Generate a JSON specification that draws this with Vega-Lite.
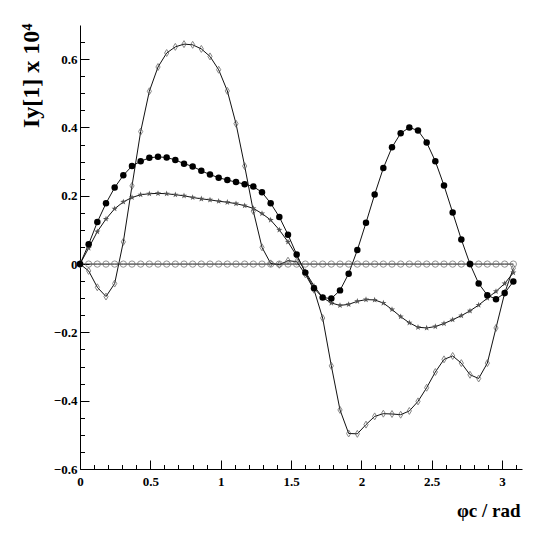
{
  "$schema": "https://vega.github.io/schema/vega-lite/v6.json",
  "width": 442,
  "height": 444,
  "autosize": {"type": "none"},
  "padding": {"left": 80, "top": 25, "right": 23, "bottom": 64},
  "background": "white",
  "config": {
    "view": {"stroke": null},
    "axis": {
      "grid": false,
      "domainColor": "#000",
      "domainWidth": 1,
      "tickColor": "#000",
      "tickWidth": 1,
      "labelFont": "Liberation Serif",
      "labelFontWeight": "bold",
      "labelFontSize": 13,
      "labelColor": "#000",
      "labelOverlap": false,
      "labelFlush": false,
      "labelBound": false,
      "titleFont": "Liberation Serif",
      "titleFontWeight": "bold",
      "titleColor": "#000"
    }
  },
  "data": {"values": [
    {"x":0,"y":0,"s":"A"},{"x":0.0616,"y":0.058,"s":"A"},{"x":0.1232,"y":0.123,"s":"A"},{"x":0.1848,"y":0.178,"s":"A"},{"x":0.2464,"y":0.224,"s":"A"},{"x":0.308,"y":0.26,"s":"A"},{"x":0.3696,"y":0.287,"s":"A"},{"x":0.4312,"y":0.301,"s":"A"},{"x":0.4928,"y":0.311,"s":"A"},{"x":0.5544,"y":0.314,"s":"A"},{"x":0.616,"y":0.312,"s":"A"},{"x":0.6776,"y":0.305,"s":"A"},{"x":0.7392,"y":0.294,"s":"A"},{"x":0.8008,"y":0.286,"s":"A"},{"x":0.8624,"y":0.273,"s":"A"},{"x":0.924,"y":0.262,"s":"A"},{"x":0.9856,"y":0.253,"s":"A"},{"x":1.0472,"y":0.246,"s":"A"},{"x":1.1088,"y":0.24,"s":"A"},{"x":1.1704,"y":0.234,"s":"A"},{"x":1.232,"y":0.227,"s":"A"},{"x":1.2936,"y":0.21,"s":"A"},{"x":1.3552,"y":0.178,"s":"A"},{"x":1.4168,"y":0.138,"s":"A"},{"x":1.4784,"y":0.086,"s":"A"},{"x":1.54,"y":0.028,"s":"A"},{"x":1.6016,"y":-0.025,"s":"A"},{"x":1.6632,"y":-0.071,"s":"A"},{"x":1.7248,"y":-0.098,"s":"A"},{"x":1.7864,"y":-0.101,"s":"A"},{"x":1.848,"y":-0.077,"s":"A"},{"x":1.9096,"y":-0.028,"s":"A"},{"x":1.9712,"y":0.041,"s":"A"},{"x":2.0328,"y":0.121,"s":"A"},{"x":2.0944,"y":0.204,"s":"A"},{"x":2.156,"y":0.281,"s":"A"},{"x":2.2176,"y":0.342,"s":"A"},{"x":2.2792,"y":0.383,"s":"A"},{"x":2.3408,"y":0.4,"s":"A"},{"x":2.4024,"y":0.391,"s":"A"},{"x":2.464,"y":0.356,"s":"A"},{"x":2.5256,"y":0.301,"s":"A"},{"x":2.5872,"y":0.23,"s":"A"},{"x":2.6488,"y":0.151,"s":"A"},{"x":2.7104,"y":0.072,"s":"A"},{"x":2.772,"y":0.0,"s":"A"},{"x":2.8336,"y":-0.057,"s":"A"},{"x":2.8952,"y":-0.091,"s":"A"},{"x":2.9568,"y":-0.103,"s":"A"},{"x":3.0184,"y":-0.085,"s":"A"},{"x":3.08,"y":-0.051,"s":"A"},
    {"x":0,"y":0,"s":"B"},{"x":0.0616,"y":0,"s":"B"},{"x":0.1232,"y":0,"s":"B"},{"x":0.1848,"y":0,"s":"B"},{"x":0.2464,"y":0,"s":"B"},{"x":0.308,"y":0,"s":"B"},{"x":0.3696,"y":0,"s":"B"},{"x":0.4312,"y":0,"s":"B"},{"x":0.4928,"y":0,"s":"B"},{"x":0.5544,"y":0,"s":"B"},{"x":0.616,"y":0,"s":"B"},{"x":0.6776,"y":0,"s":"B"},{"x":0.7392,"y":0,"s":"B"},{"x":0.8008,"y":0,"s":"B"},{"x":0.8624,"y":0,"s":"B"},{"x":0.924,"y":0,"s":"B"},{"x":0.9856,"y":0,"s":"B"},{"x":1.0472,"y":0,"s":"B"},{"x":1.1088,"y":0,"s":"B"},{"x":1.1704,"y":0,"s":"B"},{"x":1.232,"y":0,"s":"B"},{"x":1.2936,"y":0,"s":"B"},{"x":1.3552,"y":0,"s":"B"},{"x":1.4168,"y":0,"s":"B"},{"x":1.4784,"y":0,"s":"B"},{"x":1.54,"y":0,"s":"B"},{"x":1.6016,"y":0,"s":"B"},{"x":1.6632,"y":0,"s":"B"},{"x":1.7248,"y":0,"s":"B"},{"x":1.7864,"y":0,"s":"B"},{"x":1.848,"y":0,"s":"B"},{"x":1.9096,"y":0,"s":"B"},{"x":1.9712,"y":0,"s":"B"},{"x":2.0328,"y":0,"s":"B"},{"x":2.0944,"y":0,"s":"B"},{"x":2.156,"y":0,"s":"B"},{"x":2.2176,"y":0,"s":"B"},{"x":2.2792,"y":0,"s":"B"},{"x":2.3408,"y":0,"s":"B"},{"x":2.4024,"y":0,"s":"B"},{"x":2.464,"y":0,"s":"B"},{"x":2.5256,"y":0,"s":"B"},{"x":2.5872,"y":0,"s":"B"},{"x":2.6488,"y":0,"s":"B"},{"x":2.7104,"y":0,"s":"B"},{"x":2.772,"y":0,"s":"B"},{"x":2.8336,"y":0,"s":"B"},{"x":2.8952,"y":0,"s":"B"},{"x":2.9568,"y":0,"s":"B"},{"x":3.0184,"y":0,"s":"B"},{"x":3.08,"y":0,"s":"B"},
    {"x":0,"y":0,"s":"C"},{"x":0.0616,"y":0.047,"s":"C"},{"x":0.1232,"y":0.095,"s":"C"},{"x":0.1848,"y":0.132,"s":"C"},{"x":0.2464,"y":0.162,"s":"C"},{"x":0.308,"y":0.182,"s":"C"},{"x":0.3696,"y":0.195,"s":"C"},{"x":0.4312,"y":0.203,"s":"C"},{"x":0.4928,"y":0.206,"s":"C"},{"x":0.5544,"y":0.207,"s":"C"},{"x":0.616,"y":0.206,"s":"C"},{"x":0.6776,"y":0.203,"s":"C"},{"x":0.7392,"y":0.2,"s":"C"},{"x":0.8008,"y":0.195,"s":"C"},{"x":0.8624,"y":0.191,"s":"C"},{"x":0.924,"y":0.188,"s":"C"},{"x":0.9856,"y":0.184,"s":"C"},{"x":1.0472,"y":0.181,"s":"C"},{"x":1.1088,"y":0.177,"s":"C"},{"x":1.1704,"y":0.171,"s":"C"},{"x":1.232,"y":0.163,"s":"C"},{"x":1.2936,"y":0.148,"s":"C"},{"x":1.3552,"y":0.129,"s":"C"},{"x":1.4168,"y":0.1,"s":"C"},{"x":1.4784,"y":0.065,"s":"C"},{"x":1.54,"y":0.024,"s":"C"},{"x":1.6016,"y":-0.022,"s":"C"},{"x":1.6632,"y":-0.064,"s":"C"},{"x":1.7248,"y":-0.098,"s":"C"},{"x":1.7864,"y":-0.114,"s":"C"},{"x":1.848,"y":-0.121,"s":"C"},{"x":1.9096,"y":-0.118,"s":"C"},{"x":1.9712,"y":-0.109,"s":"C"},{"x":2.0328,"y":-0.104,"s":"C"},{"x":2.0944,"y":-0.105,"s":"C"},{"x":2.156,"y":-0.114,"s":"C"},{"x":2.2176,"y":-0.133,"s":"C"},{"x":2.2792,"y":-0.154,"s":"C"},{"x":2.3408,"y":-0.172,"s":"C"},{"x":2.4024,"y":-0.185,"s":"C"},{"x":2.464,"y":-0.187,"s":"C"},{"x":2.5256,"y":-0.183,"s":"C"},{"x":2.5872,"y":-0.174,"s":"C"},{"x":2.6488,"y":-0.163,"s":"C"},{"x":2.7104,"y":-0.151,"s":"C"},{"x":2.772,"y":-0.137,"s":"C"},{"x":2.8336,"y":-0.12,"s":"C"},{"x":2.8952,"y":-0.1,"s":"C"},{"x":2.9568,"y":-0.08,"s":"C"},{"x":3.0184,"y":-0.057,"s":"C"},{"x":3.08,"y":-0.025,"s":"C"},
    {"x":0,"y":0,"s":"D"},{"x":0.0616,"y":-0.02,"s":"D"},{"x":0.1232,"y":-0.068,"s":"D"},{"x":0.1848,"y":-0.095,"s":"D"},{"x":0.2464,"y":-0.057,"s":"D"},{"x":0.308,"y":0.065,"s":"D"},{"x":0.3696,"y":0.229,"s":"D"},{"x":0.4312,"y":0.388,"s":"D"},{"x":0.4928,"y":0.506,"s":"D"},{"x":0.5544,"y":0.577,"s":"D"},{"x":0.616,"y":0.618,"s":"D"},{"x":0.6776,"y":0.636,"s":"D"},{"x":0.7392,"y":0.644,"s":"D"},{"x":0.8008,"y":0.642,"s":"D"},{"x":0.8624,"y":0.63,"s":"D"},{"x":0.924,"y":0.608,"s":"D"},{"x":0.9856,"y":0.569,"s":"D"},{"x":1.0472,"y":0.507,"s":"D"},{"x":1.1088,"y":0.411,"s":"D"},{"x":1.1704,"y":0.287,"s":"D"},{"x":1.232,"y":0.155,"s":"D"},{"x":1.2936,"y":0.049,"s":"D"},{"x":1.3552,"y":0.002,"s":"D"},{"x":1.4168,"y":-0.002,"s":"D"},{"x":1.4784,"y":0.01,"s":"D"},{"x":1.54,"y":0.007,"s":"D"},{"x":1.6016,"y":-0.03,"s":"D"},{"x":1.6632,"y":-0.075,"s":"D"},{"x":1.7248,"y":-0.158,"s":"D"},{"x":1.7864,"y":-0.298,"s":"D"},{"x":1.848,"y":-0.427,"s":"D"},{"x":1.9096,"y":-0.496,"s":"D"},{"x":1.9712,"y":-0.497,"s":"D"},{"x":2.0328,"y":-0.47,"s":"D"},{"x":2.0944,"y":-0.446,"s":"D"},{"x":2.156,"y":-0.438,"s":"D"},{"x":2.2176,"y":-0.439,"s":"D"},{"x":2.2792,"y":-0.441,"s":"D"},{"x":2.3408,"y":-0.43,"s":"D"},{"x":2.4024,"y":-0.402,"s":"D"},{"x":2.464,"y":-0.362,"s":"D"},{"x":2.5256,"y":-0.316,"s":"D"},{"x":2.5872,"y":-0.279,"s":"D"},{"x":2.6488,"y":-0.269,"s":"D"},{"x":2.7104,"y":-0.29,"s":"D"},{"x":2.772,"y":-0.324,"s":"D"},{"x":2.8336,"y":-0.335,"s":"D"},{"x":2.8952,"y":-0.29,"s":"D"},{"x":2.9568,"y":-0.187,"s":"D"},{"x":3.0184,"y":-0.085,"s":"D"},{"x":3.08,"y":-0.012,"s":"D"}
  ]},
  "layer": [
    {
      "mark": {"type": "line", "stroke": "#111", "strokeWidth": 1},
      "encoding": {
        "x": {
          "field": "x", "type": "quantitative",
          "scale": {"domain": [0, 3.14159], "nice": false, "zero": false},
          "axis": {
            "values": [0,0.1,0.2,0.3,0.4,0.5,0.6,0.7,0.8,0.9,1,1.1,1.2,1.3,1.4,1.5,1.6,1.7,1.8,1.9,2,2.1,2.2,2.3,2.4,2.5,2.6,2.7,2.8,2.9,3,3.1],
            "tickCount": 200,
            "tickSize": {"condition": {"test": "abs(datum.value*2 - round(datum.value*2)) < 0.000001", "value": -9}, "value": -4.5},
            "labelPadding": 15,
            "labelOverlap": false,
            "labelFlush": false,
            "labelFont": "Liberation Serif",
            "labelFontWeight": "bold",
            "labelFontSize": 13,
            "labelExpr": "abs(datum.value*2 - round(datum.value*2)) < 0.000001 ? format(datum.value, '~g') : ''",
            "title": "φc / rad",
            "titleFontSize": 19,
            "titleAlign": "right",
            "titleBaseline": "alphabetic",
            "titleX": 440,
            "titleY": 47
          }
        },
        "y": {
          "field": "y", "type": "quantitative",
          "scale": {"domain": [-0.6, 0.7], "nice": false, "zero": false},
          "axis": {
            "values": [-0.6,-0.55,-0.5,-0.45,-0.4,-0.35,-0.3,-0.25,-0.2,-0.15,-0.1,-0.05,0,0.05,0.1,0.15,0.2,0.25,0.3,0.35,0.4,0.45,0.5,0.55,0.6,0.65],
            "tickCount": 200,
            "tickSize": {"condition": {"test": "abs(datum.value*5 - round(datum.value*5)) < 0.000001", "value": -9}, "value": -4.5},
            "labelPadding": 12,
            "labelOverlap": false,
            "labelFont": "Liberation Serif",
            "labelFontWeight": "bold",
            "labelFontSize": 13,
            "labelExpr": "abs(datum.value*5 - round(datum.value*5)) < 0.000001 ? format(datum.value, '~g') : ''",
            "title": "Iy[1] x 10⁴",
            "titleFontSize": 24,
            "titleAngle": 270,
            "titleAlign": "right",
            "titleBaseline": "alphabetic",
            "titleX": -42,
            "titleY": -2
          }
        },
        "detail": {"field": "s"}
      }
    },
    {
      "transform": [{"filter": "datum.s == 'B'"}],
      "mark": {"type": "point", "shape": "circle", "filled": false, "stroke": "#666", "strokeWidth": 1, "size": 40},
      "encoding": {"x": {"field": "x", "type": "quantitative"}, "y": {"field": "y", "type": "quantitative"}}
    },
    {
      "transform": [{"filter": "datum.s == 'D'"}],
      "mark": {"type": "point", "shape": "M0,-1L0.6,0L0,1L-0.6,0Z", "filled": false, "stroke": "#555", "strokeWidth": 1, "size": 49},
      "encoding": {"x": {"field": "x", "type": "quantitative"}, "y": {"field": "y", "type": "quantitative"}}
    },
    {
      "transform": [{"filter": "datum.s == 'C'"}],
      "mark": {"type": "point", "shape": "M0,-1L0.235,-0.324L0.951,-0.309L0.38,0.124L0.588,0.809L0,0.4L-0.588,0.809L-0.38,0.124L-0.951,-0.309L-0.235,-0.324Z", "filled": true, "fill": "#555", "opacity": 1, "size": 42},
      "encoding": {"x": {"field": "x", "type": "quantitative"}, "y": {"field": "y", "type": "quantitative"}}
    },
    {
      "transform": [{"filter": "datum.s == 'A'"}],
      "mark": {"type": "point", "shape": "circle", "filled": true, "fill": "#000", "opacity": 1, "size": 42},
      "encoding": {"x": {"field": "x", "type": "quantitative"}, "y": {"field": "y", "type": "quantitative"}}
    }
  ]
}
